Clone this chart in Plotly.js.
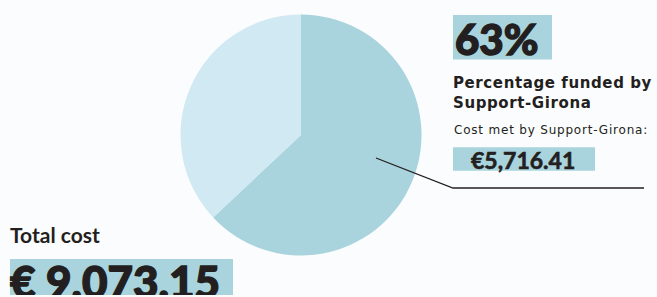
<!DOCTYPE html>
<html>
<head>
<meta charset="utf-8">
<script src="https://cdn.plot.ly/plotly-3.0.1.min.js"></script>
<style>
html,body{margin:0;padding:0;background:#fbfcfd;}
#wrap{position:relative;width:657px;height:297px;overflow:hidden;}
#chart{width:657px;height:297px;}
#bottomstrip{position:absolute;left:0;top:295px;width:657px;height:2px;background:#fbfcfd;}
.heavy text{stroke:#231f20;stroke-width:1.4px;paint-order:stroke;}
.heavy2 text{stroke:#231f20;stroke-width:0.6px;paint-order:stroke;}
.spaced1 text{letter-spacing:0.6px;}
.spaced2 text{letter-spacing:0.8px;}
</style>
</head>
<body>
<div id="wrap"><div id="chart"></div><div id="bottomstrip"></div></div>
<script>
// Data
const categories = ["Funded by Support-Girona", "Remaining cost"];
const values = [5716.41, 3356.74];
const colors = ["#a9d4dd", "#d0e9f2"];
const totalCostLabel = "Total cost";
const totalCostText = "€ 9,073.15";
const percentText = "63%";
const fundedLabel = "Percentage funded by<br>Support-Girona";
const costMetLabel = "Cost met by Support-Girona:";
const costMetText = "€5,716.41";

const W = 657, H = 297;
const px = x => x / W;
const py = y => 1 - y / H;

const cx = 301, cy = 135, r = 120.5;

const trace = {
  type: "pie",
  labels: categories,
  values: values,
  marker: {colors: colors, line: {width: 0}},
  sort: false,
  direction: "clockwise",
  rotation: 0,
  textinfo: "none",
  hoverinfo: "none",
  showlegend: false,
  domain: {x: [px(cx - r), px(cx + r)], y: [py(cy + r), py(cy - r)]}
};

const dark = "#231f20";
const boxColor = "#a9d4dd";

function rect(x0, y0, x1, y1) {
  return {type: "rect", xref: "paper", yref: "paper", x0: px(x0), x1: px(x1), y0: py(y1), y1: py(y0),
          fillcolor: boxColor, line: {width: 0}, layer: "below"};
}

const shapes = [
  rect(453, 15, 552, 59.5),
  rect(453, 147.3, 595, 170.7),
  rect(10, 259, 233, 297),
  {type: "path", xref: "paper", yref: "paper",
   path: "M " + px(376) + "," + py(158) + " L " + px(453) + "," + py(188) + " L " + px(644) + "," + py(188),
   line: {color: dark, width: 1.3}}
];

function ann(text, x, y, size, family, weight) {
  return {
    text: text, xref: "paper", yref: "paper", x: px(x), y: py(y),
    xanchor: "left", yanchor: "middle", showarrow: false, align: "left",
    font: {family: family, size: size, color: dark, weight: weight}
  };
}

const annotations = [
  ann(percentText, 453, 38.5, 42, "Lato", 900),
  ann(fundedLabel, 451, 93, 15, "DejaVu Sans", 700),
  ann(costMetLabel, 452, 130, 12, "DejaVu Sans", 400),
  ann(costMetText, 469, 159.5, 23, "Lato", 700),
  ann(totalCostLabel, 8, 234, 21, "Lato", 700),
  ann(totalCostText, 8, 281, 44, "Lato", 900)
];

const layout = {
  width: W, height: H,
  margin: {l: 0, r: 0, t: 0, b: 0},
  paper_bgcolor: "#fbfcfd",
  plot_bgcolor: "#fbfcfd",
  showlegend: false,
  shapes: shapes,
  annotations: annotations
};

Plotly.newPlot("chart", [trace], layout, {displayModeBar: false, staticPlot: true}).then(function () {
  const anns = document.querySelectorAll("#chart .annotation");
  if (anns[0]) anns[0].classList.add("heavy");
  if (anns[1]) anns[1].classList.add("spaced1");
  if (anns[2]) anns[2].classList.add("spaced2");
  if (anns[3]) anns[3].classList.add("heavy2");
  if (anns[5]) anns[5].classList.add("heavy");
});
</script>
</body>
</html>
